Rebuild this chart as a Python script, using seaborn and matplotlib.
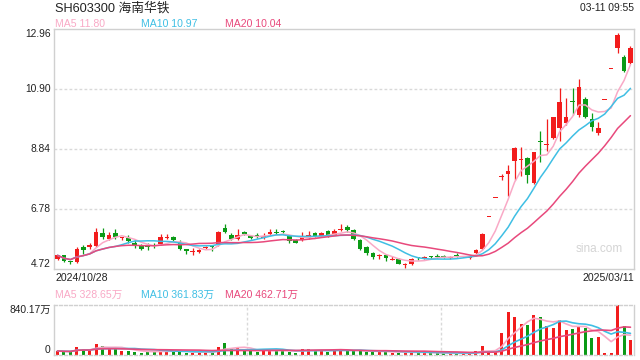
import numpy as np
import pandas as pd
import matplotlib
matplotlib.use("Agg")
import matplotlib.pyplot as plt
import seaborn as sns

# header texts
title = "SH603300 海南华铁"
stamp = "03-11 09:55"
first_day = "2024/10/28"
last_day = "2025/03/11"
ma_price_text = ["MA5 11.80", "MA10 10.97", "MA20 10.04"]
ma_vol_text = ["MA5 328.65万", "MA10 361.83万", "MA20 462.71万"]

# daily candles, 2024/10/28 .. 2025/03/11
opens = [5.07, 5.19, 4.97, 4.96, 5.47, 5.46, 5.51, 5.97, 5.74, 5.95,
         5.78, 5.79, 5.62, 5.55, 5.47, 5.53, 5.59, 5.77, 5.81, 5.65,
         5.42, 5.30, 5.31, 5.43, 5.49, 5.53, 6.14, 5.88, 5.74, 5.99,
         5.85, 5.90, 5.77, 5.91, 5.95, 6.00, 5.84, 5.70, 5.70, 5.78,
         5.94, 5.86, 6.01, 5.90, 6.05, 6.17, 6.06, 5.71, 5.48, 5.28,
         5.16, 5.19, 5.04, 5.05, 4.86, 4.90, 5.11, 5.11, 5.13, 5.15,
         5.17, 5.11, 5.19, 5.14, 5.10, 5.27, 5.41, 6.51, 7.16, 7.88,
         7.98, 8.44, 8.45, 8.54, 7.68, 9.08, 8.99, 9.21, 9.55, 9.72,
         10.45, 10.01, 10.56, 9.87, 9.38, 10.53, 11.58, 12.30, 11.99, 11.78]
highs = [5.21, 5.21, 4.99, 5.46, 5.55, 5.60, 6.13, 6.13, 5.99, 6.10,
         5.82, 5.88, 5.71, 5.58, 5.62, 5.62, 5.93, 5.93, 5.85, 5.71,
         5.42, 5.44, 5.42, 5.50, 5.50, 6.01, 6.27, 5.95, 6.08, 6.02,
         5.90, 5.95, 5.95, 6.08, 6.10, 6.05, 5.88, 5.76, 5.99, 6.04,
         6.00, 6.00, 6.05, 6.10, 6.26, 6.22, 6.08, 5.76, 5.51, 5.31,
         5.23, 5.21, 5.16, 5.10, 4.94, 5.10, 5.13, 5.17, 5.17, 5.22,
         5.19, 5.15, 5.28, 5.18, 5.21, 5.42, 5.94, 6.51, 7.16, 7.98,
         8.29, 8.92, 8.91, 8.57, 8.74, 9.46, 9.86, 9.94, 10.94, 10.58,
         10.94, 11.24, 10.62, 10.07, 9.76, 10.53, 11.58, 12.81, 12.08, 12.38]
lows = [5.04, 4.96, 4.90, 4.93, 5.25, 5.42, 5.49, 5.74, 5.71, 5.76,
        5.71, 5.62, 5.44, 5.38, 5.37, 5.44, 5.53, 5.76, 5.69, 5.38,
        5.22, 5.21, 5.26, 5.40, 5.33, 5.51, 5.95, 5.70, 5.70, 5.88,
        5.74, 5.77, 5.74, 5.90, 5.90, 5.95, 5.62, 5.60, 5.68, 5.76,
        5.81, 5.82, 5.82, 5.88, 6.03, 6.00, 5.72, 5.36, 5.21, 5.05,
        5.07, 4.98, 5.02, 4.88, 4.77, 4.85, 5.04, 5.07, 5.05, 5.10,
        5.11, 5.05, 5.13, 5.12, 5.08, 5.19, 5.38, 6.51, 7.16, 7.78,
        7.24, 7.78, 7.90, 7.66, 7.63, 8.40, 8.78, 9.17, 9.12, 9.66,
        10.01, 9.95, 9.90, 9.47, 9.33, 10.53, 11.58, 12.15, 11.48, 11.76]
closes = [5.19, 4.99, 4.95, 5.40, 5.37, 5.53, 5.99, 5.82, 5.90, 5.81,
          5.79, 5.68, 5.51, 5.40, 5.46, 5.52, 5.82, 5.78, 5.71, 5.42,
          5.35, 5.31, 5.38, 5.44, 5.48, 5.99, 5.99, 5.76, 5.88, 5.91,
          5.79, 5.82, 5.86, 5.99, 5.94, 5.99, 5.67, 5.62, 5.81, 5.90,
          5.84, 5.94, 5.90, 6.01, 6.06, 6.06, 5.76, 5.42, 5.28, 5.13,
          5.17, 5.10, 5.05, 4.90, 4.87, 5.05, 5.10, 5.12, 5.12, 5.14,
          5.14, 5.12, 5.18, 5.17, 5.17, 5.36, 5.92, 6.51, 7.16, 7.88,
          8.08, 8.88, 8.46, 7.95, 8.72, 9.07, 9.00, 9.93, 10.46, 9.93,
          10.44, 10.98, 9.95, 9.61, 9.57, 10.53, 11.58, 12.74, 11.53, 12.30]
# volume in 万
volumes = [67, 56, 56, 134, 100, 84, 185, 151, 118, 106,
           72, 72, 56, 39, 56, 56, 84, 67, 56, 67,
           39, 39, 39, 56, 45, 134, 207, 106, 123, 72,
           72, 56, 84, 84, 72, 72, 56, 39, 100, 100,
           72, 72, 56, 100, 97, 67, 67, 67, 56, 56,
           56, 56, 39, 39, 39, 56, 39, 39, 28, 28,
           28, 28, 28, 28, 28, 67, 151, 60, 55, 370,
           722, 638, 521, 504, 672, 638, 487, 454, 588, 420,
           437, 476, 454, 286, 302, 34, 34, 840, 487, 252]

price_ticks = [4.72, 6.78, 8.84, 10.90, 12.96]
vol_ticks = [0, 840.17]

UP = "#f21c1c"
DOWN = "#0b9a16"
MA_COLORS = ["#f9a9c6", "#3fbfe4", "#e8497c"]
GRID = "#d9d9d9"
EDGE = "#d0d0d0"

df = pd.DataFrame({"open": opens, "high": highs, "low": lows,
                   "close": closes, "vol": volumes})
df["idx"] = np.arange(len(df))
for n in (5, 10, 20):
    df[f"ma{n}"] = df["close"].rolling(n, min_periods=1).mean()
    df[f"vma{n}"] = df["vol"].rolling(n, min_periods=1).mean()
up = df["close"] >= df["open"]
colors = np.where(up, UP, DOWN)

sns.set_theme(style="white")
plt.rcParams["font.family"] = ["Liberation Sans", "Noto Sans CJK SC", "DejaVu Sans"]

fig = plt.figure(figsize=(6.4, 3.6), dpi=100)
W, H = 640, 360
ax = fig.add_axes([54 / W, 1 - 269 / H, 580 / W, 240 / H])
axv = fig.add_axes([54 / W, 1 - 355 / H, 580 / W, 50.5 / H])

xlim = (-0.55, len(df) - 0.45)

# candles
ax.vlines(df["idx"], df["low"], df["high"], colors=colors, lw=0.9, zorder=2)
body_lo = np.minimum(df["open"], df["close"])
body_h = np.maximum((df["close"] - df["open"]).abs(), 0.035)
ax.bar(df["idx"], body_h, bottom=body_lo, width=0.72, color=colors,
       linewidth=0, zorder=3)
for n, c in zip((5, 10, 20), MA_COLORS):
    sns.lineplot(data=df, x="idx", y=f"ma{n}", ax=ax, color=c, lw=1.1,
                 legend=False, zorder=4)

ax.set_xlim(*xlim)
ax.set_ylim(price_ticks[0], price_ticks[-1])
for v in price_ticks[1:-1]:
    ax.axhline(v, color=GRID, lw=1.0, ls=(0, (2, 1.6)), zorder=1)
ax.set_xticks([])
ax.set_yticks([])
ax.set_xlabel("")
ax.set_ylabel("")
for s in ax.spines.values():
    s.set_color(EDGE)
    s.set_linewidth(1.0)

ytr = ax.get_yaxis_transform()
for i, v in enumerate(price_ticks):
    va = "bottom" if i == 0 else ("top" if i == len(price_ticks) - 1 else "center")
    ax.text(-0.006, v, f"{v:.2f}", transform=ytr, ha="right", va=va,
            fontsize=7.4, color="#222222")
ax.text(0.981, 0.083, "sina.com", transform=ax.transAxes, ha="right",
        va="center", fontsize=8.5, color="#d4d4d4")

# volume
axv.bar(df["idx"], df["vol"], width=0.46, color=colors, linewidth=0, zorder=2)
for n, c in zip((5, 10, 20), MA_COLORS):
    sns.lineplot(data=df, x="idx", y=f"vma{n}", ax=axv, color=c, lw=1.2,
                 legend=False, zorder=3)
axv.set_xlim(*xlim)
axv.set_ylim(vol_ticks[0], vol_ticks[1])
for k in (1, 2):
    axv.axvline(xlim[0] + (xlim[1] - xlim[0]) * k / 3, color=GRID, lw=1.0,
                ls=(0, (2, 1.6)), zorder=1)
axv.set_xticks([])
axv.set_yticks([])
axv.set_xlabel("")
axv.set_ylabel("")
for name, s in axv.spines.items():
    s.set_color(EDGE)
    s.set_linewidth(1.0)
    if name in ("top", "bottom"):
        s.set_linestyle((0, (2, 1.6)))
vtr = axv.get_yaxis_transform()
axv.text(-0.006, vol_ticks[1], f"{vol_ticks[1]:.2f}万", transform=vtr,
         ha="right", va="top", fontsize=7.4, color="#222222")
axv.text(-0.006, vol_ticks[0], f"{vol_ticks[0]}", transform=vtr,
         ha="right", va="bottom", fontsize=7.4, color="#222222")

# header and date labels
fig.text(55 / W, 1 - 8 / H, title, ha="left", va="center", fontsize=9.2,
         color="#222222")
fig.text(634 / W, 1 - 8 / H, stamp, ha="right", va="center", fontsize=7.4,
         color="#222222")
for x0, t, c in zip((55, 141, 225), ma_price_text, MA_COLORS):
    fig.text(x0 / W, 1 - 24 / H, t, ha="left", va="center", fontsize=7.6,
             color=c)
for x0, t, c in zip((55, 141, 225), ma_vol_text, MA_COLORS):
    fig.text(x0 / W, 1 - 295 / H, t, ha="left", va="center", fontsize=7.6,
             color=c)
fig.text(55 / W, 1 - 278 / H, first_day, ha="left", va="center",
         fontsize=7.6, color="#222222")
fig.text(634 / W, 1 - 278 / H, last_day, ha="right", va="center",
         fontsize=7.6, color="#222222")

fig.savefig("out.png", dpi=100)
